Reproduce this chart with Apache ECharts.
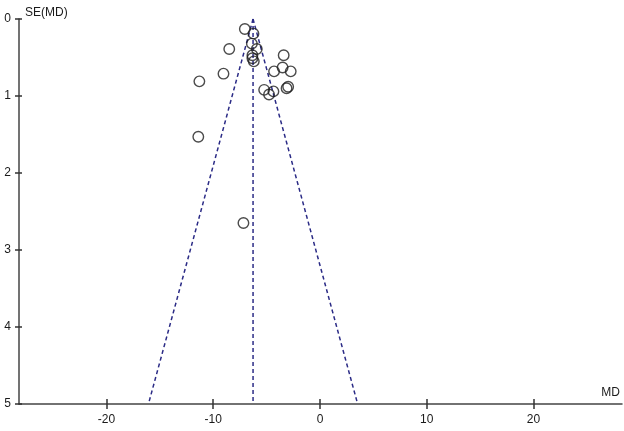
<!DOCTYPE html>
<html>
<head>
<meta charset="utf-8">
<script src="https://cdn.jsdelivr.net/npm/echarts@6/dist/echarts.min.js"></script>
<style>html,body{margin:0;padding:0;background:#fff}#c{width:624px;height:431px}</style>
</head>
<body>
<div id="c"></div>
<script>
// Study points: mean difference (MD) and its standard error SE(MD)
var mdValues = [-7.04,-6.23,-6.38,-5.92,-8.5,-6.33,-6.33,-6.2,-3.4,-3.5,-4.3,-2.74,-9.04,-11.3,-5.23,-4.36,-4.77,-3.13,-2.98,-11.4,-7.17];
var seValues = [0.13,0.19,0.32,0.39,0.39,0.47,0.51,0.55,0.47,0.63,0.68,0.68,0.71,0.81,0.92,0.94,0.98,0.9,0.88,1.53,2.65];
// Pooled estimate and funnel limits
var pooledMD = -6.27;
var funnelSE = [0, 5];
var funnelLeftMD = [-6.27, -16.07];
var funnelRightMD = [-6.27, 3.53];
var xTicks = [-20, -10, 0, 10, 20];
var yTicks = [0, 1, 2, 3, 4, 5];

var points = mdValues.map(function (v, i) { return [v, seValues[i]]; });
var lineColor = '#2b2b86';
var dashStyle = { color: lineColor, width: 1.5, type: [4, 3] };
var axisCol = '#444';
var font = { color: '#1a1a1a', fontSize: 12, fontFamily: 'Liberation Sans, Arial, sans-serif' };
var gridPos = { left: 19, right: 2, top: 19, bottom: 27, containLabel: false };
var tickStyle = { color: '#333', width: 1.5 };

var chart = echarts.init(document.getElementById('c'), null, { renderer: 'canvas' });
chart.setOption({
  animation: false,
  grid: [Object.assign({}, gridPos), Object.assign({}, gridPos)],
  xAxis: [{
    gridIndex: 0, type: 'value', min: -28.2, max: 28.3, position: 'bottom',
    name: 'MD', nameLocation: 'end', nameGap: -2,
    nameTextStyle: Object.assign({}, font, { align: 'right', verticalAlign: 'bottom', padding: [0, 0, 5, 0] }),
    axisLine: { show: true, onZero: false, lineStyle: { color: axisCol, width: 1.5 } },
    axisTick: { show: true, length: 5, customValues: xTicks, lineStyle: tickStyle },
    axisLabel: Object.assign({ customValues: xTicks, margin: 10 }, font),
    splitLine: { show: false }
  }, {
    gridIndex: 1, type: 'value', min: -28.2, max: 28.3, position: 'bottom',
    axisLine: { show: false, onZero: false },
    axisTick: { show: true, inside: true, length: 5, customValues: xTicks, lineStyle: tickStyle },
    axisLabel: { show: false, customValues: xTicks },
    splitLine: { show: false }
  }],
  yAxis: [{
    gridIndex: 0, type: 'value', min: 0, max: 5, interval: 1, inverse: true, position: 'left',
    name: 'SE(MD)', nameLocation: 'start', nameGap: 0,
    nameTextStyle: Object.assign({}, font, { align: 'left', verticalAlign: 'bottom', padding: [0, 0, 0, 6] }),
    axisLine: { show: true, onZero: false, lineStyle: { color: axisCol, width: 1.5 } },
    axisTick: { show: true, length: 4, customValues: yTicks, lineStyle: tickStyle },
    axisLabel: Object.assign({ margin: 8, customValues: yTicks }, font),
    splitLine: { show: false }
  }, {
    gridIndex: 1, type: 'value', min: 0, max: 5, interval: 1, inverse: true, position: 'left',
    axisLine: { show: false, onZero: false },
    axisTick: { show: true, inside: true, length: 3, customValues: yTicks, lineStyle: tickStyle },
    axisLabel: { show: false, customValues: yTicks },
    splitLine: { show: false }
  }],
  series: [{
    type: 'line', xAxisIndex: 0, yAxisIndex: 0,
    data: [[funnelLeftMD[0], funnelSE[0]], [funnelLeftMD[1], funnelSE[1]]],
    symbol: 'none', lineStyle: dashStyle, silent: true, z: 1
  }, {
    type: 'line', xAxisIndex: 0, yAxisIndex: 0,
    data: [[funnelRightMD[0], funnelSE[0]], [funnelRightMD[1], funnelSE[1]]],
    symbol: 'none', lineStyle: dashStyle, silent: true, z: 1
  }, {
    type: 'line', xAxisIndex: 0, yAxisIndex: 0,
    data: [[pooledMD, funnelSE[0]], [pooledMD, funnelSE[1]]],
    symbol: 'none', lineStyle: dashStyle, silent: true, z: 1
  }, {
    type: 'scatter', xAxisIndex: 0, yAxisIndex: 0, data: points, symbol: 'circle', symbolSize: 10.5,
    itemStyle: { color: 'rgba(0,0,0,0)', borderColor: '#1e1e1e', borderWidth: 1.4 }, z: 3
  }]
});
</script>
</body>
</html>
